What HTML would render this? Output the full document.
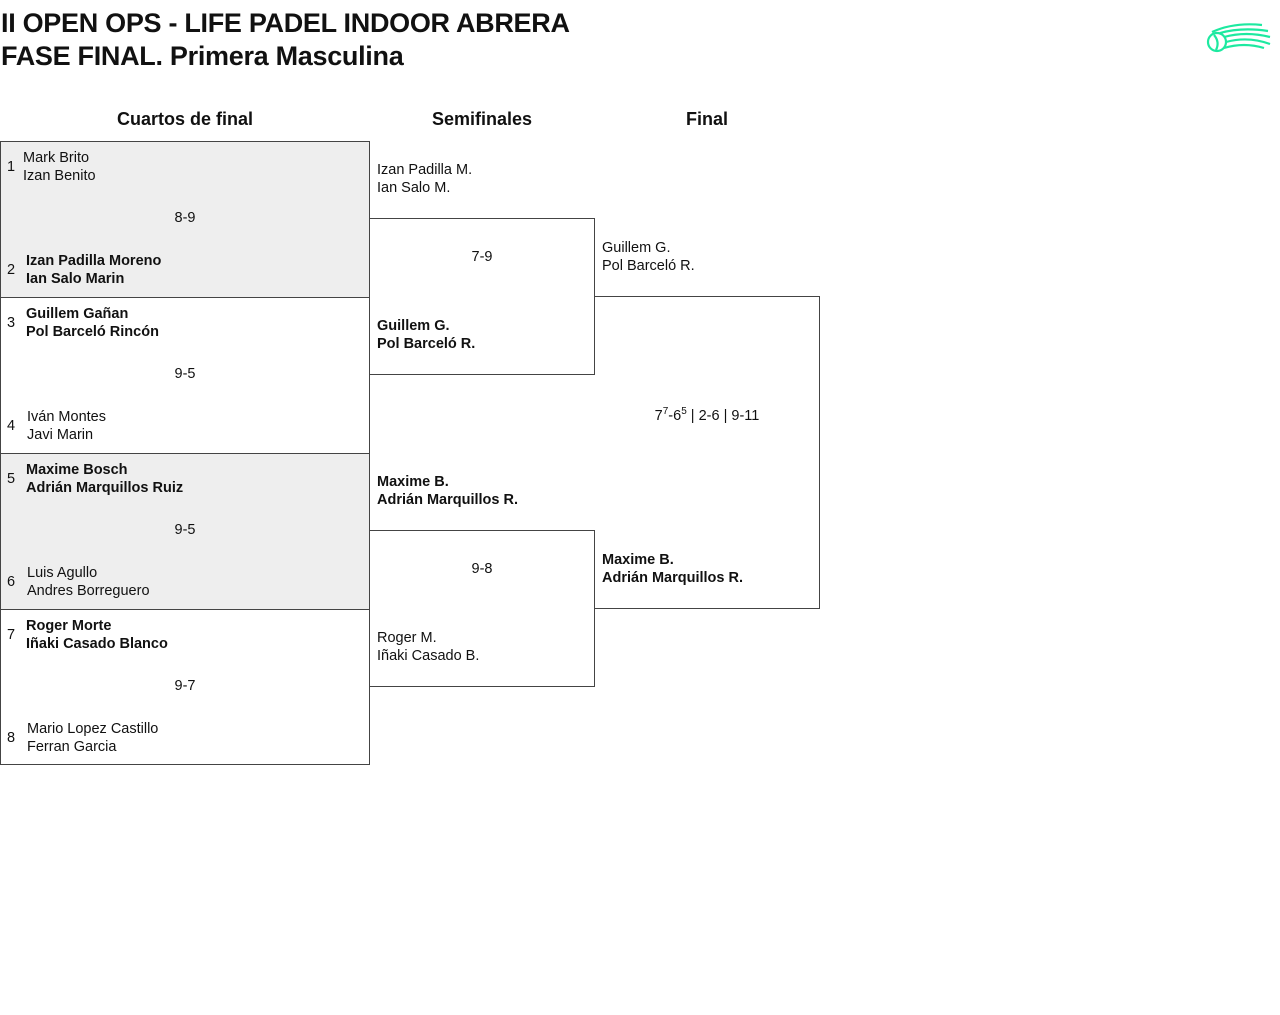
<!DOCTYPE html>
<html><head><meta charset="utf-8"><style>
body{margin:0;width:1280px;height:1015px;background:#fff;font-family:"Liberation Sans",sans-serif;color:#111;position:relative;overflow:hidden}
.a{position:absolute;white-space:nowrap}
.t{font-size:27px;left:1px;letter-spacing:-0.3px;font-weight:bold;-webkit-text-stroke:0px}
.h{font-size:18px;transform:translateX(-50%);font-weight:bold}
.box{position:absolute;border:1px solid #444;box-sizing:border-box}
.g{background:#eee}
.n{font-size:14.5px;line-height:18px}
.b{font-weight:bold}
.s{font-size:14.5px;transform:translateX(-50%)}
</style></head><body>
<div class="a t" style="top:8px">II OPEN OPS - LIFE PADEL INDOOR ABRERA</div>
<div class="a t" style="top:41px">FASE FINAL. Primera Masculina</div>
<svg class="a" style="left:1204px;top:22px" width="70" height="38" viewBox="0 0 70 38">
<g fill="none" stroke="#1de9a0" stroke-width="2.2">
<circle cx="13" cy="20" r="9"/>
<path d="M10 13 Q16 20 12 28"/>
<path d="M8 10 Q30 0 58 3"/><path d="M16 11 Q38 5 64 9"/><path d="M20 15 Q42 9 66 15"/><path d="M22 20 Q44 14 66 22"/><path d="M20 26 Q40 20 60 26"/>
</g></svg>
<div class="a h" style="left:185px;top:109px">Cuartos de final</div>
<div class="a h" style="left:482px;top:109px">Semifinales</div>
<div class="a h" style="left:707px;top:109px">Final</div>

<div class="box g" style="left:0;top:141px;width:370px;height:157px"></div>
<div class="box" style="left:0;top:297px;width:370px;height:157px"></div>
<div class="box g" style="left:0;top:453px;width:370px;height:157px"></div>
<div class="box" style="left:0;top:609px;width:370px;height:156px"></div>
<div class="box" style="left:369px;top:218px;width:226px;height:157px"></div>
<div class="box" style="left:369px;top:530px;width:226px;height:157px"></div>
<div class="box" style="left:594px;top:296px;width:226px;height:313px;border-left:none"></div>

<div class="a n" style="left:7px;top:158px">1</div>
<div class="a n" style="left:23px;top:149px">Mark Brito<br>Izan Benito</div>
<div class="a s" style="left:185px;top:210px">8-9</div>
<div class="a n" style="left:7px;top:261px">2</div>
<div class="a n b" style="left:26px;top:252px">Izan Padilla Moreno<br>Ian Salo Marin</div>

<div class="a n" style="left:7px;top:314px">3</div>
<div class="a n b" style="left:26px;top:305px">Guillem Gañan<br>Pol Barceló Rincón</div>
<div class="a s" style="left:185px;top:366px">9-5</div>
<div class="a n" style="left:7px;top:417px">4</div>
<div class="a n" style="left:27px;top:408px">Iván Montes<br>Javi Marin</div>

<div class="a n" style="left:7px;top:470px">5</div>
<div class="a n b" style="left:26px;top:461px">Maxime Bosch<br>Adrián Marquillos Ruiz</div>
<div class="a s" style="left:185px;top:522px">9-5</div>
<div class="a n" style="left:7px;top:573px">6</div>
<div class="a n" style="left:27px;top:564px">Luis Agullo<br>Andres Borreguero</div>

<div class="a n" style="left:7px;top:626px">7</div>
<div class="a n b" style="left:26px;top:617px">Roger Morte<br>Iñaki Casado Blanco</div>
<div class="a s" style="left:185px;top:678px">9-7</div>
<div class="a n" style="left:7px;top:729px">8</div>
<div class="a n" style="left:27px;top:720px">Mario Lopez Castillo<br>Ferran Garcia</div>

<div class="a n" style="left:377px;top:161px">Izan Padilla M.<br>Ian Salo M.</div>
<div class="a s" style="left:482px;top:249px">7-9</div>
<div class="a n b" style="left:377px;top:317px">Guillem G.<br>Pol Barceló R.</div>
<div class="a n b" style="left:377px;top:473px">Maxime B.<br>Adrián Marquillos R.</div>
<div class="a s" style="left:482px;top:561px">9-8</div>
<div class="a n" style="left:377px;top:629px">Roger M.<br>Iñaki Casado B.</div>

<div class="a n" style="left:602px;top:239px">Guillem G.<br>Pol Barceló R.</div>
<div class="a s" style="left:707px;top:406px">7<sup style="font-size:10px">7</sup>-6<sup style="font-size:10px">5</sup> | 2-6 | 9-11</div>
<div class="a n b" style="left:602px;top:551px">Maxime B.<br>Adrián Marquillos R.</div>
</body></html>
